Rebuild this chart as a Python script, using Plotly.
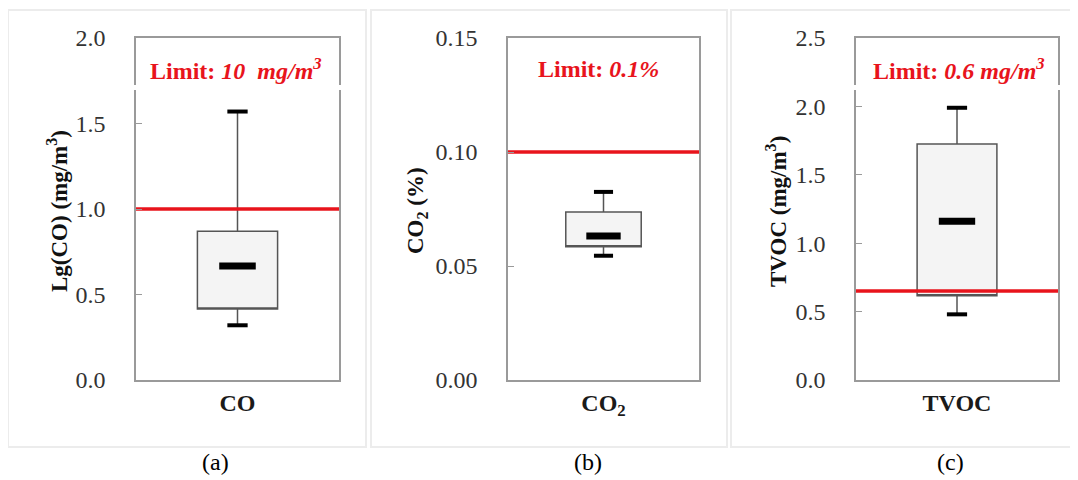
import plotly.graph_objects as go

# ---- data ----
categories = ["<b>CO</b>", "<b>CO<sub>2</sub></b>", "<b>TVOC</b>"]
q1_vals = [0.415, 0.0584, 0.615]
median_vals = [0.667, 0.0632, 1.16]
q3_vals = [0.87, 0.0737, 1.725]
lower_whisker = [0.32, 0.0545, 0.48]
upper_whisker = [1.57, 0.0825, 1.99]
limit_vals = [1.0, 0.1, 0.65]
limit_texts = ["<b>Limit: <i>10  mg/m<sup>3</sup></i></b>",
               "<b>Limit: <i>0.1%</i></b>",
               "<b>Limit: <i>0.6 mg/m<sup>3</sup></i></b>"]
y_titles = ["<b>Lg(CO) (mg/m<sup>3</sup>)</b>",
            "<b>CO<sub>2</sub> (%)</b>",
            "<b>TVOC (mg/m<sup>3</sup>)</b>"]
y_ranges = [[0, 2.0], [0, 0.15], [0, 2.5]]
y_tickvals = [[0, 0.5, 1.0, 1.5, 2.0],
              [0, 0.05, 0.10, 0.15],
              [0, 0.5, 1.0, 1.5, 2.0, 2.5]]
y_ticktext = [["0.0", "0.5", "1.0", "1.5", "2.0"],
              ["0.00", "0.05", "0.10", "0.15"],
              ["0.0", "0.5", "1.0", "1.5", "2.0", "2.5"]]
panel_labels = ["(a)", "(b)", "(c)"]

OFF = 8                      # page body margin
W, H = 1078 - OFF, 480 - OFF
FONT = "Liberation Serif"
RED = "#e8141c"

# screen-pixel layout
x_domains_px = [(136, 339), (508, 699), (856, 1058)]
y_top_px, y_bot_px = 38, 380
title_x_px = [57, 417, 776]
limit_x_px = [236, 598, 959]
label_x_px = [215, 588, 950]
panel_frames_px = [(8, 366), (371, 727), (731, 1090)]

def px_x(p):
    return (p - OFF) / W

def px_y(p):
    return 1 - (p - OFF) / H

fig = go.Figure()
annotations = []
shapes = []

for i in range(3):
    xa = "x" if i == 0 else f"x{i+1}"
    ya = "y" if i == 0 else f"y{i+1}"
    # box body (median drawn separately as a thick bar)
    fig.add_trace(go.Box(
        x=[0], q1=[q1_vals[i]], median=[q1_vals[i]], q3=[q3_vals[i]],
        lowerfence=[lower_whisker[i]], upperfence=[upper_whisker[i]],
        width=0.79, whiskerwidth=0,
        line=dict(color="#555555", width=1.5),
        fillcolor="#f4f4f4",
        xaxis=xa, yaxis=ya, showlegend=False, hoverinfo="skip",
    ))
    # median bar
    fig.add_trace(go.Scatter(
        x=[-0.18, 0.18], y=[median_vals[i], median_vals[i]], mode="lines",
        line=dict(color="black", width=7), xaxis=xa, yaxis=ya,
        showlegend=False, hoverinfo="skip",
    ))
    # whisker caps
    for v in (lower_whisker[i], upper_whisker[i]):
        fig.add_trace(go.Scatter(
            x=[-0.1, 0.1], y=[v, v], mode="lines",
            line=dict(color="black", width=4), xaxis=xa, yaxis=ya,
            showlegend=False, hoverinfo="skip",
        ))
    # limit line
    fig.add_trace(go.Scatter(
        x=[-1, 1], y=[limit_vals[i], limit_vals[i]], mode="lines",
        line=dict(color=RED, width=3.5), xaxis=xa, yaxis=ya,
        showlegend=False, hoverinfo="skip",
    ))

    x0, x1 = x_domains_px[i]
    xkey = "xaxis" if i == 0 else f"xaxis{i+1}"
    ykey = "yaxis" if i == 0 else f"yaxis{i+1}"
    fig.layout[xkey] = dict(
        domain=[px_x(x0), px_x(x1)], range=[-1, 1], anchor=ya,
        tickvals=[0], ticktext=[categories[i]], ticks="",
        showline=True, mirror=True, linecolor="#9a9a9a", linewidth=1.5,
        showgrid=False, zeroline=False, ticklabelstandoff=0, automargin=False,
        tickfont=dict(family=FONT, size=24, color="#1a1a1a"),
    )
    fig.layout[ykey] = dict(
        domain=[px_y(y_bot_px), px_y(y_top_px)], range=y_ranges[i], anchor=xa,
        tickvals=y_tickvals[i], ticktext=y_ticktext[i],
        ticks="inside", ticklen=6, tickcolor="#9a9a9a", tickwidth=1.2,
        showline=True, mirror=True, linecolor="#9a9a9a", linewidth=1.5,
        showgrid=False, zeroline=False, ticklabelstandoff=24, automargin=False,
        tickfont=dict(family=FONT, size=24, color="#333333"),
    )

    annotations.append(dict(
        text=y_titles[i], x=px_x(title_x_px[i]), y=px_y(211), xref="paper", yref="paper",
        textangle=-90, showarrow=False, xanchor="center", yanchor="middle",
        font=dict(family=FONT, size=23, color="#111111"),
    ))
    annotations.append(dict(
        text=limit_texts[i], x=px_x(limit_x_px[i]), y=px_y(69), xref="paper", yref="paper",
        showarrow=False, xanchor="center", yanchor="middle",
        font=dict(family=FONT, size=24, color=RED),
    ))
    annotations.append(dict(
        text=panel_labels[i], x=px_x(label_x_px[i]), y=px_y(462), xref="paper", yref="paper",
        showarrow=False, xanchor="center", yanchor="middle",
        font=dict(family=FONT, size=24, color="black"),
    ))

    fx0, fx1 = panel_frames_px[i]
    shapes.append(dict(
        type="rect", xref="paper", yref="paper",
        x0=px_x(fx0), x1=px_x(fx1), y0=px_y(447), y1=px_y(10),
        line=dict(color="#ececec", width=2), fillcolor="rgba(0,0,0,0)", layer="below",
    ))

# small breaks in the frame lines of panels (a) and (c)
for i in (0, 2):
    for xe in x_domains_px[i]:
        shapes.append(dict(
            type="rect", xref="paper", yref="paper",
            x0=px_x(xe - 3), x1=px_x(xe + 3), y0=px_y(90), y1=px_y(85),
            line=dict(width=0), fillcolor="white", layer="above",
        ))

fig.update_layout(
    width=W, height=H, margin=dict(l=0, r=0, t=0, b=0, autoexpand=False),
    paper_bgcolor="white", plot_bgcolor="white",
    annotations=annotations, shapes=shapes, showlegend=False,
)

fig.write_html("out.html")
